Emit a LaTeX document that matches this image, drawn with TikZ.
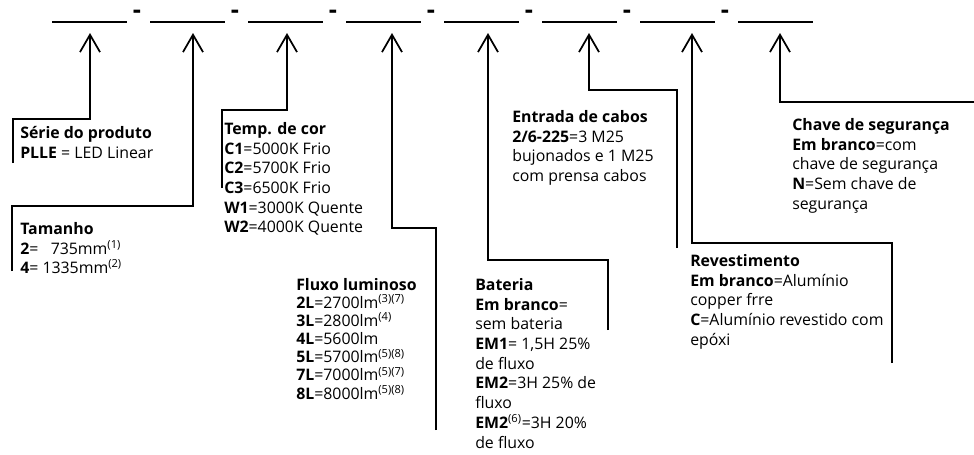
\documentclass[tikz,border=0pt]{standalone}
\usepackage{fontspec}
\setmainfont{Open Sans}
\usetikzlibrary{arrows.meta,positioning}

\begin{document}
\begin{tikzpicture}[x=0.75pt,y=-0.75pt,
    slot/.style={line width=0.8pt},
    conn/.style={line width=1.3pt,-{Straight Barb[length=13pt,width=15pt,line width=1.3pt]}},
    desc/.style={anchor=north west,align=left,inner sep=0pt,font=\fontsize{11.9}{14.8}\selectfont},
    sepdash/.style={font=\fontsize{19}{19}\selectfont\bfseries,inner sep=0pt,
      text height=0.4em,text depth=0pt,anchor=base}]
  \useasboundingbox (0,0) rectangle (974,454);
  % code slots
  \foreach \i in {1,...,8}
    \draw[slot] ({52+98*(\i-1)},22) -- ++(75,0);
  \foreach \i in {1,...,7}
    \node[sepdash] (S\i) at ({137+98*(\i-1)},18) {-};
  % tips, corners and free ends
  \foreach \n/\x in {1/90,2/193,3/287,4/392,5/488,6/589,7/692,8/780}
    \coordinate (T\n) at (\x,33);
  \coordinate (K1) at (13,119);  \coordinate (E1) at (13,163);
  \coordinate (K2) at (12,206);  \coordinate (E2) at (12,271);
  \coordinate (K3) at (222,110); \coordinate (E3) at (222,188);
  \coordinate (K4) at (436,228); \coordinate (E4) at (436,430);
  \coordinate (K5) at (608,260); \coordinate (E5) at (608,330);
  \coordinate (K6) at (677,90);  \coordinate (E6) at (677,248);
  \coordinate (K7) at (892,243); \coordinate (E7) at (892,363);
  \coordinate (E8) at (974,102);

  \node[desc] (serie) at (20,126) {\textbf{Série do produto}\\
    \textbf{PLLE} = LED Linear};
  \node[desc] (tam) at (20,222) {\textbf{Tamanho}\\
    \textbf{2}=~~~735mm\textsuperscript{(1)}\\
    \textbf{4}= 1335mm\textsuperscript{(2)}};
  \node[desc] (temp) at (224,122) {\textbf{Temp. de cor}\\
    \textbf{C1}=5000K Frio\\ \textbf{C2}=5700K Frio\\ \textbf{C3}=6500K Frio\\
    \textbf{W1}=3000K Quente\\ \textbf{W2}=4000K Quente};
  \node[desc,font=\fontsize{11.9}{13.6}\selectfont] (fluxo) at (296,278) {\textbf{Fluxo luminoso}\\
    \textbf{2L}=2700lm\textsuperscript{(3)(7)}\\ \textbf{3L}=2800lm\textsuperscript{(4)}\\
    \textbf{4L}=5600lm\\ \textbf{5L}=5700lm\textsuperscript{(5)(8)}\\
    \textbf{7L}=7000lm\textsuperscript{(5)(7)}\\ \textbf{8L}=8000lm\textsuperscript{(5)(8)}};
  \node[desc] (bat) at (475,278) {\textbf{Bateria}\\ \textbf{Em branco}=\\ sem bateria\\
    \textbf{EM1}= 1,5H 25\%\\ de fluxo\\ \textbf{EM2}=3H 25\% de\\ fluxo\\
    \textbf{EM2}\textsuperscript{(6)}=3H 20\%\\ de fluxo};
  \node[desc] (cabos) at (512,110) {\textbf{Entrada de cabos}\\
    \textbf{2/6-225}=3 M25\\ bujonados e 1 M25\\ com prensa cabos};
  \node[desc] (chave) at (792,118) {\textbf{Chave de segurança}\\
    \textbf{Em branco}=com\\ chave de segurança\\ \textbf{N}=Sem chave de\\ segurança};
  \node[desc] (rev) at (690,254) {\textbf{Revestimento}\\
    \textbf{Em branco}=Alumínio\\ copper frre\\
    \textbf{C}=Alumínio revestido com\\ epóxi};

  \draw[conn] (E1) -- (K1) -| (T1);
  \draw[conn] (E2) -- (K2) -| (T2);
  \draw[conn] (E3) -- (K3) -| (T3);
  \draw[conn] (E4) -- (K4) -| (T4);
  \draw[conn] (E5) -- (K5) -| (T5);
  \draw[conn] (E6) -- (K6) -| (T6);
  \draw[conn] (E7) -- (K7) -| (T7);
  \draw[conn] (E8) -| (T8);
\end{tikzpicture}
\end{document}
